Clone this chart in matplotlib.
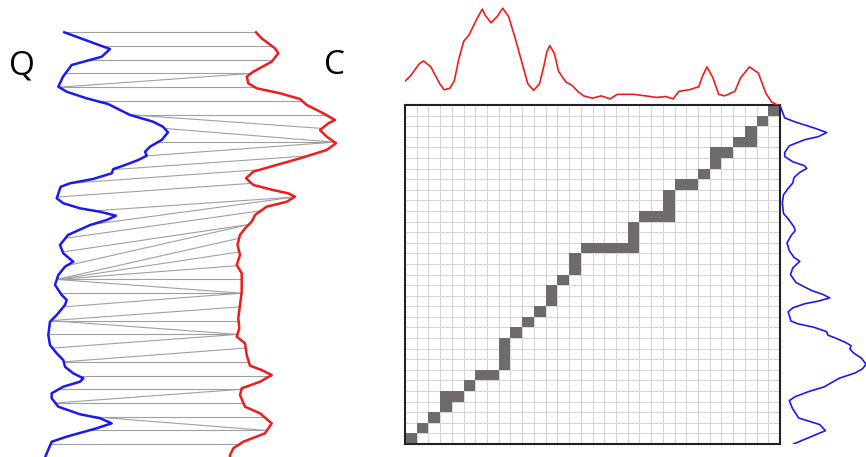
"""Dynamic time warping illustration: Q/C alignment and the warping path matrix."""

import matplotlib
import numpy as np

matplotlib.use("Agg")
import matplotlib.pyplot as plt  # noqa: E402

W, H = 866, 457
N = 32

# query Q, traced: sample index and amplitude
q_t = [0.00, 1.22, 1.78, 2.38, 3.23, 3.96, 4.33, 4.81, 5.22, 6.02, 6.51, 6.88,
       7.28, 7.84, 8.33, 8.70, 8.99, 9.30, 9.67, 9.96, 10.27, 10.68, 11.00,
       11.25, 12.09, 12.45, 12.82, 13.07, 13.36, 13.67, 14.04, 14.76, 15.49,
       16.10, 16.71, 17.07, 17.68, 18.40, 19.13, 19.50, 19.86, 20.59, 21.08,
       22.05, 22.78, 23.38, 23.87, 24.36, 24.84, 25.20, 25.45, 25.81, 26.29,
       26.66, 27.27, 27.82, 28.11, 28.48, 28.84, 29.45, 29.82, 30.79, 31.00]
q_amp = [19.3, 65, 56.7, 26.7, 18, 13.3, 21.7, 41.7, 63, 85, 108, 118, 123,
         116.7, 105, 100, 101.7, 93.3, 80, 68.3, 66.7, 48.3, 25, 15.7, 11.7,
         18.3, 35, 55, 71, 61.7, 45, 23, 15, 18.3, 28.3, 20, 13.3, 10, 16.7,
         21.7, 20, 11.7, 5, 3.3, 5, 11.7, 18.3, 20, 28.3, 38.3, 35, 18.3, 6.7,
         6.7, 13.3, 35, 55, 66.7, 51.7, 21.7, 6.7, 1, 0]

# candidate C, traced
c_t = [0.00, 0.44, 1.17, 1.53, 2.14, 2.87, 3.23, 3.71, 4.08, 4.44, 4.86, 5.29,
       5.90, 6.39, 6.63, 7.12, 7.60, 8.08, 8.57, 9.18, 9.66, 10.15, 10.63,
       11.12, 11.49, 11.73, 11.97, 12.34, 12.70, 13.31, 13.79, 14.28, 14.76,
       15.49, 16.22, 16.95, 17.55, 18.89, 19.86, 20.83, 21.56, 22.17, 22.65,
       23.50, 24.28, 24.60, 24.96, 25.45, 25.93, 26.42, 27.27, 27.75, 28.48,
       29.21, 29.82, 30.30, 30.79, 31.00]
c_amp = [26, 31.7, 45, 48.3, 41.7, 23.3, 16.7, 18.3, 26.7, 50, 70, 76.7, 93.3,
         105, 98.3, 90, 96.7, 106, 96.7, 70, 46.7, 23.3, 16, 23.3, 43.3, 58.3,
         65, 56.7, 36.7, 25, 21.7, 15, 10, 7.5, 10, 6.7, 11.7, 11.7, 10, 8.3,
         9.3, 6.7, 15, 16.7, 20, 31.7, 41.7, 30, 11.7, 10, 15, 30, 41.7, 35,
         13.3, 3.3, 0, 0]

# amplitudes at the 32 matched samples
q_samples = [19.3, 56.8, 45.5, 20.4, 14.2, 51.7, 84.4, 119.5, 113, 101.5, 68,
             25, 12.1, 49.7, 46.7, 20.4, 17.8, 21.6, 11.8, 15.5, 18.4, 6, 3.4,
             7.5, 18.8, 32.9, 13.7, 10.5, 47.5, 43.8, 5.6, 0]
c_samples = [26, 42, 43.2, 20.9, 24.9, 72.2, 95.7, 92, 104.3, 77.7, 30.6, 21.4,
             64.3, 30.9, 18.9, 9.2, 9.3, 7, 11.7, 11.5, 9.8, 8.5, 8, 15.7, 18.8,
             41, 11.5, 13.4, 34.1, 36.9, 9.5, 0]

# warping path: column = C index, row = Q index
path_c = [0, 1, 2, 3, 3, 4, 5, 6, 7, 8, 8, 8, 9, 10, 11, 12, 12, 13, 14, 14,
          15, 16, 17, 18, 19, 19, 19, 20, 21, 22, 22, 22, 23, 24, 25, 26, 26,
          27, 28, 29, 29, 30, 31]
path_q = [0, 1, 2, 3, 4, 4, 5, 6, 6, 7, 8, 9, 10, 11, 12, 13, 14, 15, 16, 17,
          18, 18, 18, 18, 18, 19, 20, 21, 21, 21, 22, 23, 24, 24, 25, 26, 27,
          27, 28, 28, 29, 30, 31]

BLUE = "#1a1af0"
RED = "#ee1c1c"
LINK = "#a0a0a0"
CELL = "#6f6b6b"
C_SHIFT = 185  # horizontal gap between Q and C in the left panel


def px_rect(left, top, right, bottom):
    return [left / W, 1 - bottom / H, (right - left) / W, (bottom - top) / H]


fig = plt.figure(figsize=(W / 100, H / 100), dpi=100)

# left: Q and C side by side with their matches
ax_l = fig.add_axes([0, 0, 360 / W, 1])
ax_l.set_xlim(-45, 315)
ax_l.set_ylim((H - 32.3) / 13.73, -32.3 / 13.73)
for j, i in zip(path_c, path_q):
    ax_l.plot([q_samples[i], c_samples[j] + C_SHIFT], [i, j], color=LINK,
              lw=0.8, zorder=1)
ax_l.plot(q_amp, q_t, color=BLUE, lw=1.8, zorder=2)
ax_l.plot(np.array(c_amp) + C_SHIFT, c_t, color=RED, lw=1.8, zorder=2)
ax_l.axis("off")

fig.text(22 / W, 1 - 66 / H, "Q", ha="center", va="center", fontsize=24,
         family="Open Sans")
fig.text(335 / W, 1 - 66 / H, "C", ha="center", va="center", fontsize=24,
         family="Open Sans")

# warping matrix
ax_m = fig.add_axes(px_rect(405, 105, 780, 444))
cells = np.zeros((N, N))
cells[path_q, path_c] = 1
ax_m.pcolormesh(np.arange(N + 1), np.arange(N + 1),
                np.ma.masked_equal(cells, 0),
                cmap=matplotlib.colors.ListedColormap([CELL]), zorder=2)
ax_m.set_xlim(0, N)
ax_m.set_ylim(0, N)
ax_m.set_xticks(np.arange(N + 1))
ax_m.set_yticks(np.arange(N + 1))
ax_m.tick_params(length=0, labelbottom=False, labelleft=False)
ax_m.grid(color="#d4d4d4", lw=0.7)
ax_m.set_axisbelow(True)
for s in ax_m.spines.values():
    s.set_color("#222222")
    s.set_linewidth(1.5)
    s.set_zorder(3)

# C along the top
ax_t = fig.add_axes(px_rect(405, 0, 780, 105))
ax_t.plot(c_t, c_amp, color=RED, lw=1.2)
ax_t.set_xlim(0, N - 1)
ax_t.set_ylim(0, 115)
ax_t.axis("off")

# Q along the right
ax_r = fig.add_axes(px_rect(780, 105, 866, 444))
ax_r.plot(q_amp, q_t, color=BLUE, lw=1.2)
ax_r.set_xlim(0, 123)
ax_r.set_ylim(0, N - 1)
ax_r.axis("off")

fig.savefig("out.png", dpi=100)
